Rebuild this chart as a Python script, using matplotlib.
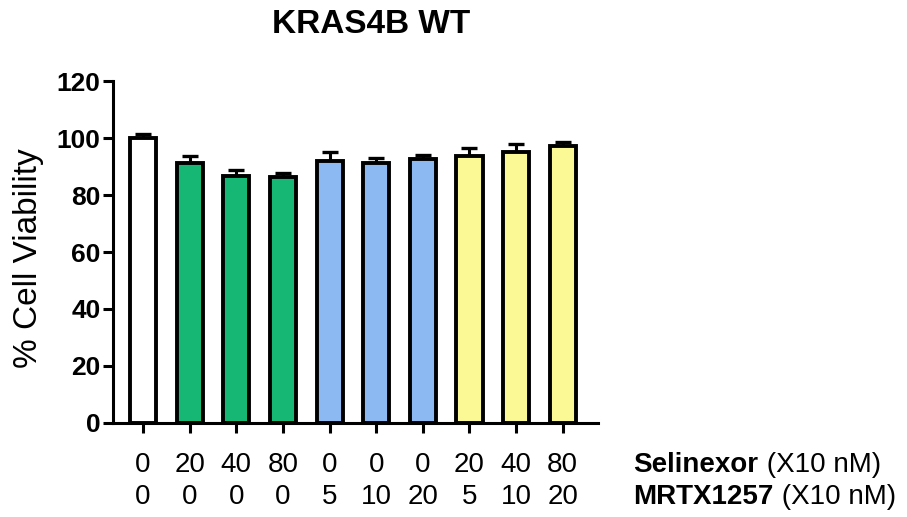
import numpy as np
import matplotlib
matplotlib.use("Agg")
from matplotlib import pyplot as plt

plt.rcParams['font.family'] = ['Liberation Sans', 'DejaVu Sans']

selinexor = ["0", "20", "40", "80", "0", "0", "0", "20", "40", "80"]
mrtx1257 = ["0", "0", "0", "0", "5", "10", "20", "5", "10", "20"]
viability = [100.0, 91.2, 86.8, 86.2, 91.9, 91.2, 92.6, 93.6, 95.0, 97.4]
sem = [1.4, 2.4, 1.9, 1.5, 3.4, 1.7, 1.6, 3.1, 3.0, 1.4]
colours = ["#ffffff", "#16b775", "#16b775", "#16b775",
           "#8cb9f2", "#8cb9f2", "#8cb9f2",
           "#fbf896", "#fbf896", "#fbf896"]

fig = plt.figure(figsize=(9.07, 5.17), dpi=100)
ax = fig.add_axes([0.1246, 0.182, 0.5344, 0.661])

x = np.arange(len(viability))
lower = np.zeros(len(sem))
ax.errorbar(x, viability, yerr=[lower, sem], fmt='none', ecolor='black',
            elinewidth=2.2, capsize=5.8, capthick=2.4, zorder=1)
ax.bar(x, viability, width=0.56, color=colours, edgecolor='black',
       linewidth=2.8, zorder=2)

ax.set_xlim(-0.645, 9.75)
ax.set_ylim(0, 120)
ax.set_yticks([0, 20, 40, 60, 80, 100, 120])
for lbl in ax.get_yticklabels():
    lbl.set_fontweight('bold')
ax.tick_params(axis='y', labelsize=19, width=2.2, length=7, pad=2)
ax.set_xticks(x)
ax.set_xticklabels([])
ax.tick_params(axis='x', width=2.2, length=7)
for side in ['top', 'right']:
    ax.spines[side].set_visible(False)
for side in ['left', 'bottom']:
    ax.spines[side].set_linewidth(2.2)

fig.text(29 / 907, 1 - 258 / 517, "% Cell Viability", rotation=90,
         ha='center', va='center', fontsize=24)

# two rows of dose labels under the bars
tr = ax.get_xaxis_transform()
for i in range(len(x)):
    ax.text(x[i], -0.123, selinexor[i], transform=tr, ha='center', va='center', fontsize=20)
    ax.text(x[i], -0.217, mrtx1257[i], transform=tr, ha='center', va='center', fontsize=20)

t1 = ax.text(10.52, -0.123, "Selinexor", transform=tr, ha='left', va='center',
             fontsize=20, fontweight='bold')
ax.annotate(" (X10 nM)", xy=(1, 0), xycoords=t1, ha='left', va='bottom', fontsize=20)
t2 = ax.text(10.52, -0.217, "MRTX1257", transform=tr, ha='left', va='center',
             fontsize=20, fontweight='bold')
ax.annotate(" (X10 nM)", xy=(1, 0), xycoords=t2, ha='left', va='bottom', fontsize=20)

fig.text(0.409, 0.952, "KRAS4B WT", ha='center', va='center', fontsize=24, fontweight='bold')

fig.savefig("out.png", dpi=100)
